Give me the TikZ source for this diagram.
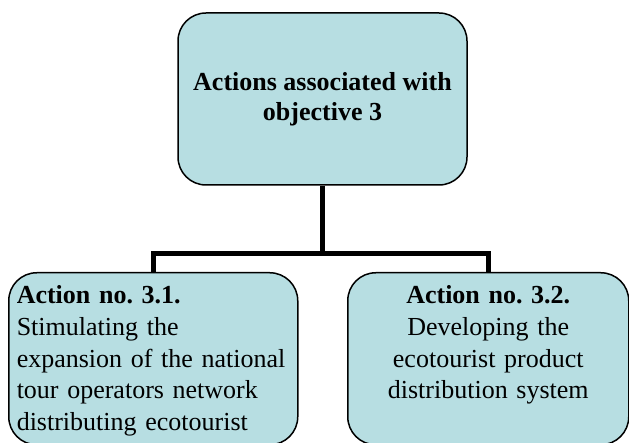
\documentclass[tikz,border=0pt]{standalone}
\usepackage{fontspec}
\setmainfont{Liberation Serif}
\usepackage{xcolor}
\usepackage{tikz}
\definecolor{boxteal}{RGB}{183,222,226}
\tikzset{every picture/.style={line width=1.5pt}}
\frenchspacing

\begin{document}
\begin{tikzpicture}[x=1pt,y=1pt,
 every node/.style={font=\fontsize{26}{31.7}\selectfont},
 panel/.style={draw=black,fill=boxteal,line width=1.5pt,rounded corners=28pt},
 link/.style={line width=5pt,line cap=butt}]
 \useasboundingbox (0,0) rectangle (629,442);
 \clip (0,0) rectangle (629,442);

 % The objective sits on top, centred in its box.
 \node[panel,minimum width=289pt,minimum height=172pt,align=center,
  font=\fontsize{26}{30}\selectfont\bfseries] (obj3) at (322.5,343)
  {Actions associated with\\objective 3};

 % Two actions below, text hung from the top edge.
 \node[panel,anchor=north west,inner xsep=8pt,inner ysep=10pt,
  text width=273pt,text height=21pt,text depth=131pt,align=left]
  (act31) at (8,170)
  {\textbf{Action no. 3.1.}\\Stimulating the\\expansion of the national\\
   tour operators network\\distributing ecotourist};
 \node[panel,anchor=north west,inner xsep=8pt,inner ysep=10pt,
  text width=265pt,text height=21pt,text depth=131pt,align=center]
  (act32) at (347,170)
  {\textbf{Action no. 3.2.}\\Developing the\\ecotourist product\\
   distribution system};

 \coordinate (bar) at (obj3.south |- 0,188);
 \draw[link] (obj3.south) -- (bar);
 \draw[link] (act31.north) |- (bar) -| (act32.north);
\end{tikzpicture}
\end{document}
